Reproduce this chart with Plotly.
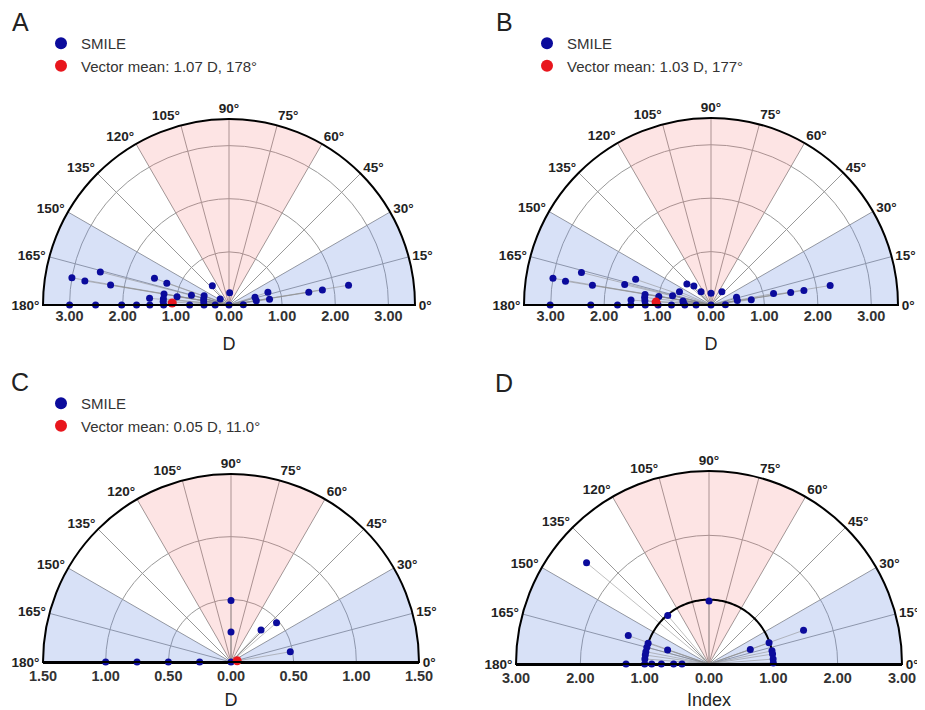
import plotly.graph_objects as go

# The page body has an 8px margin, so the figure is drawn 8px in from the window corner.
OFF = 8
W, H = 925 - OFF, 710 - OFF


def px(x):
    return (x - OFF) / W


def py(y):
    return 1 - (y - OFF) / H


# ---------------- data ----------------
A_r = [3.00, 2.75, 2.50, 2.26, 1.49, 1.24, 1.50, 1.24, 1.24, 1.24, 0.99, 0.73, 0.50, 0.49, 0.48, 0.48, 0.20, 0.23,
       3.00, 2.51, 2.02, 1.74, 1.49, 1.23, 0.74, 0.47, 0.26, 0.00,
       0.27, 0.51, 0.52, 0.77, 0.77, 1.52, 1.78, 2.28]
A_theta = [170.2, 170.5, 165.6, 170.4, 160.3, 160.7, 175.2, 170.4, 174.5, 177.0, 170.9, 165.5, 159.5, 166.5, 172.6, 130.8, 146.0, 87.0,
           180, 180, 180, 180, 180, 180, 180, 180, 180, 180,
           1.0, 16.4, 9.1, 18.1, 8.0, 9.1, 9.1, 9.4]
A_mean = (1.07, 178)

B_r = [3.00, 2.76, 2.50, 2.25, 1.66, 1.49, 1.50, 1.25, 1.25, 1.24, 0.99, 0.74, 0.64, 0.53, 0.52, 0.60, 0.48, 0.31, 0.22,
       3.01, 2.25, 1.75, 1.50, 1.23, 0.99, 0.74, 0.49, 0.28, 0.00,
       0.32, 0.27, 0.50, 0.50, 0.76, 1.19, 1.51, 1.76, 2.26]
B_theta = [170.4, 170.7, 165.9, 170.5, 166.7, 161.2, 176.5, 170.9, 173.5, 176.3, 170.7, 166.5, 157.2, 172.0, 175.0, 138.8, 131.9, 126.9, 90.0,
           180, 180, 180, 180, 180, 180, 180, 180, 180, 180,
           50.5, 1.0, 17.1, 9.9, 7.5, 10.4, 8.9, 8.9, 9.3]
B_mean = (1.03, 177)

C_r = [0.49, 0.24, 0.35, 0.48, 0.48, 1.00, 0.75, 0.50, 0.25, 0.00]
C_theta = [90, 90, 46.8, 40.8, 9.8, 180, 180, 180, 180, 180]
C_mean = (0.05, 11.0)

D_r = [2.47, 0.98, 0.99, 1.33, 0.68, 1.00, 1.00, 1.00, 1.00, 1.00,
       1.29, 1.00, 0.89, 0.74, 0.55, 0.42,
       1.56, 0.68, 0.99, 1.00, 1.00, 1.00, 1.00]
D_theta = [140.4, 90, 130.4, 160.6, 161.2, 161.2, 165.0, 169.0, 172.0, 175.5,
           180, 180, 180, 180, 180, 180,
           19.6, 19.2, 19.4, 11.8, 8.9, 4.4, 1.0]

ang_ticks = list(range(0, 181, 15))
zone_theta = [15, 165, 90]      # centres of shaded zones (deg)
zone_width = [30, 30, 60]
zone_colors = ["rgba(110,145,225,0.27)", "rgba(110,145,225,0.27)", "rgba(245,120,120,0.20)"]

panels = [
    dict(letter="A", r=A_r, th=A_theta, mean=A_mean, mfmt="{:.0f}", rmax=3.5, grid=[1, 2, 3],
         xt=[-3, -2, -1, 0, 1, 2, 3], title="D", cx=229, cy=305, R=186, base=False, ring=False),
    dict(letter="B", r=B_r, th=B_theta, mean=B_mean, mfmt="{:.0f}", rmax=3.5, grid=[1, 2, 3],
         xt=[-3, -2, -1, 0, 1, 2, 3], title="D", cx=711, cy=305, R=187, base=False, ring=False),
    dict(letter="C", r=C_r, th=C_theta, mean=C_mean, mfmt="{:.1f}", rmax=1.5, grid=[0.5, 1.0],
         xt=[-1.5, -1.0, -0.5, 0, 0.5, 1.0, 1.5], title="D", cx=231, cy=662, R=188, base=True, ring=False),
    dict(letter="D", r=D_r, th=D_theta, mean=None, mfmt=None, rmax=3.0, grid=[1, 2],
         xt=[-3, -2, -1, 0, 1, 2, 3], title="Index", cx=709, cy=664, R=193, base=True, ring=True),
]
letter_pos = [(20, 22), (504, 22), (20, 382), (504, 383)]
legend_pos = [(41, 27), (527, 27), (41, 387)]

FONT = "Liberation Sans"
DOT = "#0b0b9c"
RED = "#e8161d"
GRID = "#999999"

fig = go.Figure()
layout = dict(width=W, height=H, margin=dict(l=0, r=0, t=0, b=0), showlegend=True,
              paper_bgcolor="white", plot_bgcolor="rgba(0,0,0,0)", annotations=[])

for i, p in enumerate(panels, start=1):
    pid = "polar" if i == 1 else f"polar{i}"
    sfx = "" if i == 1 else str(i)
    lg = "legend" if i == 1 else f"legend{i}"
    x0, x1 = px(p["cx"] - p["R"]), px(p["cx"] + p["R"])
    yb, yt = py(p["cy"]), py(p["cy"] - p["R"])

    # shaded zones
    fig.add_trace(go.Barpolar(r=[p["rmax"]] * 3, theta=zone_theta, width=zone_width,
                              marker=dict(color=zone_colors, line=dict(width=0)),
                              subplot=pid, showlegend=False, hoverinfo="skip"))
    # spokes from origin to each point
    sr, st = [], []
    for rr, tt in zip(p["r"], p["th"]):
        sr += [0, rr, None]
        st += [tt, tt, None]
    fig.add_trace(go.Scatterpolar(r=sr, theta=st, mode="lines",
                                  line=dict(color="rgba(140,140,140,0.55)", width=1),
                                  subplot=pid, showlegend=False, hoverinfo="skip"))
    if p["ring"]:
        ring_t = list(range(0, 181, 2))
        fig.add_trace(go.Scatterpolar(r=[1] * len(ring_t), theta=ring_t, mode="lines",
                                      line=dict(color="black", width=2),
                                      subplot=pid, showlegend=False, hoverinfo="skip"))
    fig.add_trace(go.Scatterpolar(r=p["r"], theta=p["th"], mode="markers",
                                  marker=dict(color=DOT, size=7),
                                  name="SMILE", subplot=pid, legend=lg,
                                  showlegend=p["mean"] is not None))
    if p["mean"] is not None:
        mr, mt = p["mean"]
        fig.add_trace(go.Scatterpolar(r=[mr], theta=[mt], mode="markers",
                                      marker=dict(color=RED, size=9),
                                      name=f"Vector mean: {mr:.2f} D, " + p["mfmt"].format(mt) + "°",
                                      subplot=pid, legend=lg, showlegend=True))
        lx, ly = legend_pos[i - 1]
        layout[lg] = dict(x=px(lx), y=py(ly), xanchor="left", yanchor="top",
                          font=dict(family=FONT, size=15, color="#333"), visible=True,
                          itemsizing="constant", bgcolor="rgba(0,0,0,0)", tracegroupgap=0)

    layout[pid] = dict(
        domain=dict(x=[x0, x1], y=[yb, yt]),
        sector=[0, 180], bgcolor="white",
        angularaxis=dict(rotation=0, direction="counterclockwise", tickmode="array",
                         tickvals=ang_ticks, ticktext=[f"{a}°" for a in ang_ticks],
                         showline=True, linecolor="black", linewidth=2, ticks="", ticklen=0,
                         gridcolor=GRID, gridwidth=1,
                         tickfont=dict(family=FONT, size=13.5, color="#222", weight="bold")),
        radialaxis=dict(range=[0, p["rmax"]], tickmode="array", tickvals=p["grid"],
                        showticklabels=False, ticks="", showline=False,
                        gridcolor=GRID, gridwidth=1),
    )

    # cartesian axis along the diameter for the symmetric magnitude labels
    fig.add_trace(go.Scatter(x=[None], y=[None], xaxis=f"x{sfx}", yaxis=f"y{sfx}",
                             showlegend=False, hoverinfo="skip"))
    layout[f"xaxis{sfx}"] = dict(domain=[x0, x1], anchor=f"y{sfx}", range=[-p["rmax"], p["rmax"]],
                                 tickmode="array", tickvals=p["xt"],
                                 ticktext=[f"{abs(v):.2f}" for v in p["xt"]],
                                 showgrid=False, zeroline=False, ticks="",
                                 showline=p["base"], linecolor="black", linewidth=2,
                                 tickfont=dict(family=FONT, size=14.5, color="#333", weight="bold"),
                                 title=dict(text=p["title"], font=dict(family=FONT, size=18, color="#222"),
                                            standoff=14),
                                 automargin=False, fixedrange=True)
    layout[f"yaxis{sfx}"] = dict(domain=[yb, yt], anchor=f"x{sfx}", range=[0, 1], visible=False,
                                 fixedrange=True)

    lxp, lyp = letter_pos[i - 1]
    layout["annotations"].append(dict(text=p["letter"], x=px(lxp), y=py(lyp), xref="paper", yref="paper",
                                      xanchor="center", yanchor="middle", showarrow=False,
                                      font=dict(family=FONT, size=25, color="#222")))

fig.update_layout(**layout)
fig.write_html("out.html")
